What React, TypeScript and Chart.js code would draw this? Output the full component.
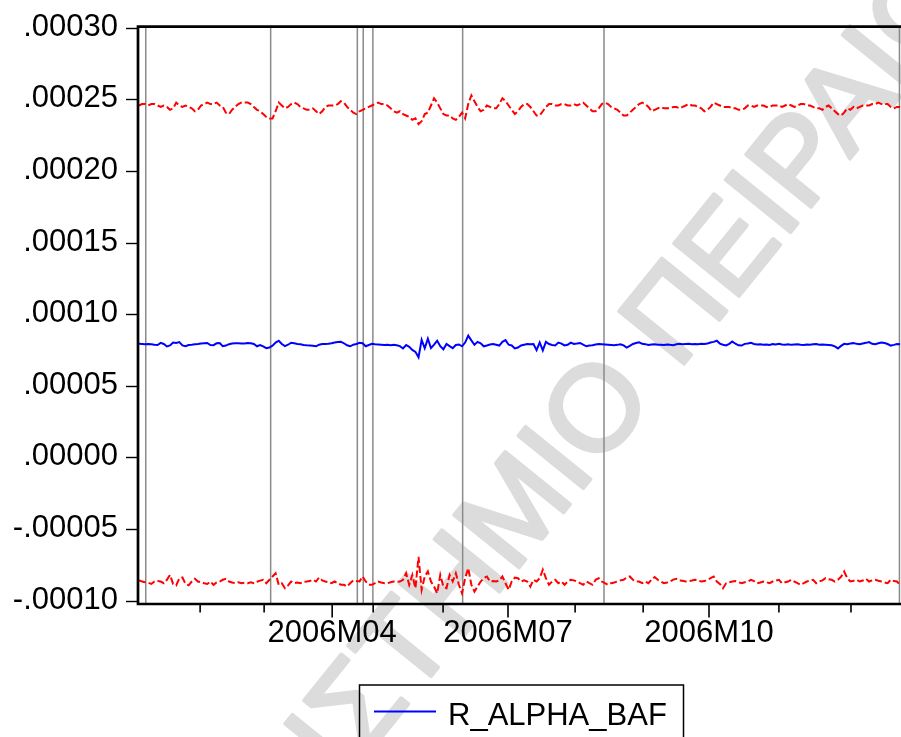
import React, { useEffect, useRef } from 'react';
import { Chart, registerables } from 'chart.js';

Chart.register(...registerables);

// Values in units of 1e-6 (micro)
const upperBandMicro = [
  246, 247, 247, 246, 247, 247, 246, 245, 246, 245,
  243, 244, 248, 246, 245, 246, 245, 244, 242, 243,
  246, 247, 248, 247, 247, 248, 246, 245, 241, 240,
  243, 245, 247, 248, 248, 248, 247, 245, 243, 242,
  240, 238, 237, 237, 242, 248, 246, 244, 245, 247,
  248, 247, 245, 244, 243, 243, 244, 242, 240, 242,
  245, 246, 246, 246, 247, 249, 248, 245, 243, 241,
  240, 242, 243, 244, 245, 246, 247, 248, 247, 247,
  246, 244, 242, 241, 242, 240, 239, 238, 236, 237,
  233, 235, 240, 241, 246, 251, 248, 244, 240, 239,
  239, 237, 236, 238, 241, 237, 247, 253, 249, 245,
  242, 243, 246, 245, 244, 244, 247, 251, 249, 246,
  243, 240, 242, 245, 247, 247, 245, 242, 239, 239,
  242, 245, 247, 247, 246, 246, 247, 247, 246, 246,
  247, 246, 247, 248, 246, 244, 242, 242, 244, 247,
  248, 247, 245, 244, 243, 241, 239, 239, 241, 243,
  245, 247, 248, 247, 245, 242, 243, 244, 245, 244,
  244, 244, 245, 245, 244, 245, 246, 247, 246, 246,
  245, 244, 242, 243, 245, 248, 247, 246, 245, 245,
  245, 244, 244, 243, 243, 244, 246, 246, 245, 246,
  246, 246, 245, 245, 246, 246, 246, 245, 246, 247,
  246, 245, 246, 247, 247, 246, 246, 245, 244, 244,
  243, 245, 246, 244, 242, 240, 239, 241, 244, 243,
  245, 244, 245, 246, 246, 246, 247, 247, 248, 247,
  247, 247, 245, 244, 245, 245,
];

const coefMicro = [
  79.6, 79.5, 79.4, 79.5, 79.3, 79.0, 78.8, 80.3, 79.5, 77.8,
  78.5, 80.5, 80.2, 80.8, 78.5, 77.9, 78.8, 79.0, 79.3, 79.5,
  79.8, 80.0, 80.2, 78.8, 78.7, 80.0, 80.2, 78.0, 78.4, 79.4,
  79.8, 80.0, 80.1, 79.8, 79.9, 80.2, 80.0, 79.5, 77.9, 78.8,
  77.8, 76.6, 77.0, 78.3, 80.5, 81.8, 79.5, 78.0, 79.0, 80.4,
  80.0, 79.5, 79.3, 78.8, 78.6, 78.5, 78.2, 77.9, 79.0, 79.5,
  79.5, 79.6, 80.0, 80.5, 80.9, 81.1, 80.0, 78.6, 77.9, 79.0,
  79.5, 80.3, 80.0, 77.9, 78.8, 79.6, 79.3, 79.2, 79.0, 78.8,
  79.0, 78.6, 78.9, 78.6, 78.0, 76.4, 78.8, 77.5, 75.4, 74.0,
  70.2, 82.4, 76.5, 83.2, 76.6, 79.0, 81.8, 78.0, 75.8, 79.5,
  78.0, 76.6, 78.8, 79.2, 77.9, 80.5, 85.3, 82.0, 79.0, 81.0,
  80.0, 77.9, 78.5, 79.2, 79.5, 79.0, 78.4, 81.0, 82.2, 79.0,
  78.5, 76.4, 77.0, 78.5, 79.0, 79.5, 79.3, 79.5, 75.2, 80.6,
  75.0, 81.0, 79.5, 78.8, 78.5, 80.5, 79.8, 78.5, 79.0, 80.5,
  79.5, 79.8, 80.2, 79.0, 77.9, 78.5, 78.6, 79.2, 79.5, 79.4,
  79.2, 79.0, 78.8, 78.6, 78.9, 79.3, 78.5, 77.0, 78.2, 79.5,
  80.2, 80.7, 79.6, 79.4, 78.8, 79.1, 79.3, 79.0, 78.9, 78.8,
  79.2, 78.9, 78.7, 79.3, 79.6, 79.4, 79.5, 79.6, 79.4, 79.5,
  79.3, 79.6, 79.5, 79.8, 80.5, 81.0, 81.8, 79.8, 79.0, 78.5,
  79.6, 81.2, 79.7, 78.6, 78.4, 79.6, 79.8, 80.3, 79.5, 79.2,
  79.3, 79.0, 79.2, 78.8, 79.4, 79.1, 79.6, 79.2, 79.0, 79.3,
  78.9, 79.2, 79.4, 79.0, 78.8, 79.2, 79.0, 79.3, 79.5, 79.0,
  79.2, 79.0, 78.8, 78.6, 77.8, 76.4, 78.2, 79.6, 79.3, 79.8,
  80.1, 79.6, 79.3, 79.9, 80.3, 80.8, 79.6, 79.3, 80.0, 80.6,
  80.2, 79.5, 78.4, 78.9, 79.5, 79.4,
];

const lowerBandMicro = [
  -85.5, -86.3, -86.8, -87.2, -88.0, -86.3, -86.0, -86.3, -87.5, -85.1,
  -81.7, -88.0, -89.0, -84.0, -83.5, -88.0, -89.0, -86.3, -84.4, -86.3,
  -86.8, -87.5, -88.0, -86.3, -88.6, -87.0, -86.3, -85.1, -84.4, -86.3,
  -87.0, -87.5, -86.8, -87.5, -87.2, -87.5, -86.8, -87.5, -86.5, -85.7,
  -85.1, -87.5, -85.1, -82.8, -80.5, -88.6, -87.5, -91.0, -89.0, -86.3,
  -87.5, -87.0, -87.5, -86.5, -86.3, -86.0, -85.1, -86.3, -83.5, -85.5,
  -86.3, -86.8, -87.5, -86.3, -87.5, -88.5, -88.6, -89.8, -87.5, -85.5,
  -86.0, -86.3, -82.8, -86.3, -88.6, -88.6, -87.5, -86.3, -87.0, -87.5,
  -87.5, -86.8, -86.3, -86.5, -86.3, -85.1, -80.5, -88.6, -81.7, -91.0,
  -69.0, -92.1, -82.8, -79.3, -86.3, -89.8, -94.5, -81.7, -89.8, -91.0,
  -81.7, -86.3, -80.5, -88.6, -94.5, -84.0, -77.0, -88.6, -93.3, -89.8,
  -86.3, -84.0, -82.8, -86.3, -86.0, -86.3, -85.5, -82.8, -87.5, -92.1,
  -86.3, -83.5, -84.0, -86.3, -85.5, -86.3, -89.8, -85.1, -86.3, -84.0,
  -78.1, -84.0, -88.6, -86.3, -85.1, -87.5, -86.3, -88.6, -86.3, -85.1,
  -85.5, -86.3, -87.5, -88.6, -86.3, -87.5, -88.6, -85.1, -84.0, -86.3,
  -87.5, -88.6, -87.5, -87.0, -86.3, -85.5, -85.1, -83.5, -82.8, -85.1,
  -86.3, -86.3, -87.5, -86.3, -87.5, -85.0, -83.2, -85.1, -86.3, -87.5,
  -87.0, -86.3, -85.0, -84.4, -85.5, -85.8, -86.3, -86.0, -85.6, -85.1,
  -85.5, -86.3, -86.0, -85.1, -84.0, -82.8, -86.3, -88.0, -91.0, -87.5,
  -86.8, -86.3, -86.0, -86.8, -87.5, -86.8, -86.3, -85.1, -86.0, -87.5,
  -87.0, -86.3, -86.8, -87.5, -86.3, -85.6, -85.1, -87.5, -86.8, -86.3,
  -85.1, -86.3, -87.5, -88.6, -87.5, -86.3, -85.6, -85.1, -87.5, -86.3,
  -85.5, -84.0, -84.8, -85.1, -86.3, -85.1, -83.0, -79.3, -84.0, -86.3,
  -85.8, -85.1, -86.3, -85.6, -84.4, -86.3, -85.5, -85.1, -85.8, -86.3,
  -87.0, -87.5, -85.1, -86.0, -86.3, -88.6,
];

const MICRO = 1e-6;

const yTickValues = [0.0003, 0.00025, 0.0002, 0.00015, 0.0001, 0.00005, 0, -0.00005, -0.0001];
const yTickLabels = ['.00030', '.00025', '.00020', '.00015', '.00010', '.00005', '.00000', '-.00005', '-.00010'];

// month boundaries, in observation index units
const monthTickPos = [19.7, 40.3, 62.2, 75.4, 97.9, 118.8, 140.4, 162.3, 183.5, 206.0, 229.2];
const monthTickLabels = ['', '', '2006M04', '', '', '2006M07', '', '', '2006M10', '', ''];

// vertical grey marker lines, in observation index units
const markerLinePos = [2.2, 42.4, 70.3, 72.2, 75.3, 104.2, 149.7, 244.8];

const legendLabel = 'R_ALPHA_BAF';
const watermarkText = 'ΠΑΝΕΠΙΣΤΗΜΙΟ ΠΕΙΡΑΙΩΣ';

const FONT = '"Liberation Sans", Arial, Helvetica, sans-serif';

const toPoints = (arr: number[]) => arr.map((v, i) => ({ x: i, y: v * MICRO }));

const eviewsPlugin = {
  id: 'eviewsStyle',
  beforeDraw(chart: any) {
    const ctx = chart.ctx;
    ctx.save();
    ctx.font = `121px ${FONT}`;
    ctx.fillStyle = '#dcdcdc';
    ctx.strokeStyle = '#dcdcdc';
    ctx.lineWidth = 4;
    ctx.lineJoin = 'round';
    const pre = 'ΠΑΝΕΠΙΣΤΗΜΙ';
    const wPre = ctx.measureText(pre).width;
    const wO = ctx.measureText('Ο').width;
    ctx.translate(601, 413);
    ctx.rotate((-51 * Math.PI) / 180);
    ctx.textBaseline = 'middle';
    ctx.textAlign = 'left';
    ctx.fillText(watermarkText, -(wPre + wO / 2), 0);
    ctx.strokeText(watermarkText, -(wPre + wO / 2), 0);
    ctx.restore();
  },
  beforeDatasetsDraw(chart: any) {
    const ctx = chart.ctx;
    const xs = chart.scales.x;
    const { top, bottom } = chart.chartArea;
    ctx.save();
    ctx.strokeStyle = '#8a8a8a';
    ctx.lineWidth = 1.5;
    markerLinePos.forEach((p) => {
      const x = xs.getPixelForValue(p);
      ctx.beginPath();
      ctx.moveTo(x, top);
      ctx.lineTo(x, bottom);
      ctx.stroke();
    });
    ctx.restore();
  },
  afterDraw(chart: any) {
    const ctx = chart.ctx;
    const xs = chart.scales.x;
    const { left, right, top, bottom } = chart.chartArea;
    ctx.save();
    // frame
    ctx.strokeStyle = '#000';
    ctx.lineWidth = 2.7;
    ctx.beginPath();
    ctx.moveTo(right + 5, top);
    ctx.lineTo(left, top);
    ctx.lineTo(left, bottom);
    ctx.lineTo(right + 5, bottom);
    ctx.stroke();
    // x tick marks
    ctx.lineWidth = 1.6;
    monthTickPos.forEach((p, i) => {
      const x = xs.getPixelForValue(p);
      const len = monthTickLabels[i] ? 13.5 : 8.5;
      ctx.beginPath();
      ctx.moveTo(x, bottom);
      ctx.lineTo(x, bottom + len);
      ctx.stroke();
    });
    // legend
    const ds = chart.data.datasets[0];
    ctx.lineWidth = 1.5;
    ctx.strokeRect(359.5, 685, 324, 100);
    ctx.strokeStyle = ds.borderColor;
    ctx.lineWidth = 2;
    ctx.beginPath();
    ctx.moveTo(374, 711.5);
    ctx.lineTo(436, 711.5);
    ctx.stroke();
    ctx.fillStyle = '#000';
    ctx.font = `31px ${FONT}`;
    ctx.textBaseline = 'alphabetic';
    ctx.textAlign = 'left';
    ctx.fillText(ds.label, 448, 725);
    ctx.restore();
  },
};

export default function App() {
  const ref = useRef<HTMLCanvasElement>(null);

  useEffect(() => {
    const canvas = ref.current;
    if (!canvas) return;
    const chart = new Chart(canvas, {
      type: 'line',
      data: {
        datasets: [
          {
            label: legendLabel,
            data: toPoints(coefMicro),
            borderColor: '#0000ff',
            borderWidth: 2,
            pointRadius: 0,
            tension: 0,
            fill: false,
          },
          {
            label: 'upper',
            data: toPoints(upperBandMicro),
            borderColor: '#ff0000',
            borderWidth: 2,
            borderDash: [7, 3],
            pointRadius: 0,
            tension: 0,
            fill: false,
          },
          {
            label: 'lower',
            data: toPoints(lowerBandMicro),
            borderColor: '#ff0000',
            borderWidth: 2,
            borderDash: [7, 3],
            pointRadius: 0,
            tension: 0,
            fill: false,
          },
        ],
      },
      options: {
        responsive: false,
        animation: false,
        devicePixelRatio: 1,
        layout: { padding: { top: 26.7, left: 0, right: 0, bottom: 0 } },
        plugins: {
          legend: { display: false },
          tooltip: { enabled: false },
        },
        scales: {
          x: {
            type: 'linear',
            min: -0.3,
            max: 245.3,
            grid: { display: false, drawTicks: false },
            border: { display: false },
            afterBuildTicks: (scale: any) => {
              scale.ticks = monthTickPos.map((v) => ({ value: v }));
            },
            afterFit: (scale: any) => {
              scale.height = 133;
            },
            ticks: {
              autoSkip: false,
              maxRotation: 0,
              minRotation: 0,
              padding: 11,
              color: '#000',
              font: { family: FONT, size: 31 },
              callback: (_v: any, i: number) => monthTickLabels[i],
            },
          },
          y: {
            type: 'linear',
            min: -0.000102,
            max: 0.000301,
            grid: {
              drawOnChartArea: false,
              drawTicks: true,
              tickLength: 12,
              tickColor: '#000',
              tickWidth: 1.4,
            },
            border: { display: false },
            afterBuildTicks: (scale: any) => {
              scale.ticks = yTickValues.map((v) => ({ value: v }));
            },
            afterFit: (scale: any) => {
              scale.width = 138;
            },
            ticks: {
              autoSkip: false,
              padding: 8,
              labelOffset: -1,
              color: '#000',
              font: { family: FONT, size: 31 },
              callback: (_v: any, i: number) => yTickLabels[i],
            },
          },
        },
      },
      plugins: [eviewsPlugin],
    } as any);
    return () => chart.destroy();
  }, []);

  return (
    <div style={{ position: 'absolute', left: 0, top: 0, width: 901, height: 737, overflow: 'hidden', background: '#fff' }}>
      <canvas ref={ref} width={901} height={737} style={{ display: 'block', width: 901, height: 737 }} />
    </div>
  );
}
